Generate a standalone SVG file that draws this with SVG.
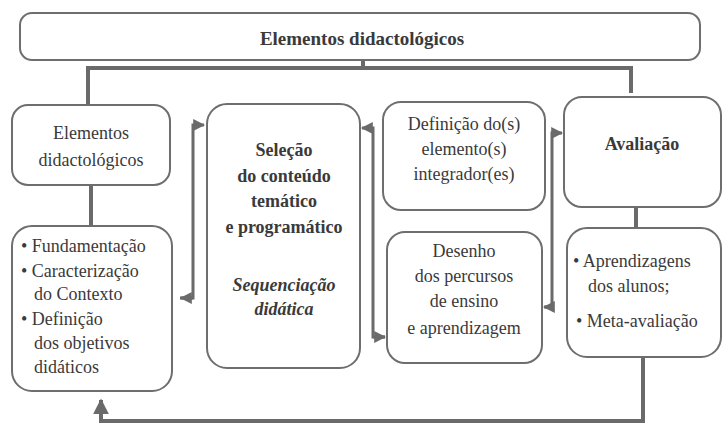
<svg xmlns="http://www.w3.org/2000/svg" width="723" height="429" viewBox="0 0 723 429">
<defs>
<style>
.box{fill:#fff;stroke:#6e6e6e;stroke-width:2}
text{font-family:"Liberation Serif","Times New Roman",Tinos,serif;font-size:18px;fill:#3a3a3a}
.c{text-anchor:middle}
.b{font-weight:bold}
.i{font-style:italic;font-weight:bold}
.con{fill:none;stroke:#6a6a6a}
.thick{stroke-width:4}
.thin{stroke-width:3}
</style>
<marker id="ah" viewBox="0 0 10 10" refX="9" refY="5" markerWidth="4" markerHeight="4" orient="auto" markerUnits="strokeWidth">
<path d="M0,0 L10,5 L0,10 z" fill="#6a6a6a"/>
</marker>
</defs>
<rect width="723" height="429" fill="#fff"/>

<g id="connectors">
<path class="con thick" d="M363,60 V68 M88,105 V68 H631 V93"/>
<path class="con thick" d="M91,185 V225"/>
<path class="con thick" d="M636,207 V228"/>
<path class="con thick" d="M643,357 V421 H101 V400" marker-end="url(#ah)"/>
<path class="con thin" d="M180,298 H193 V125 H204" marker-end="url(#ah)"/>
<path class="con thin" d="M193,298 H181" marker-end="url(#ah)"/>
<path class="con thin" d="M385,337 H373 V128 H362" marker-end="url(#ah)"/>
<path class="con thin" d="M373,337 H385" marker-end="url(#ah)"/>
<path class="con thin" d="M545,307 H552 V133 H562" marker-end="url(#ah)"/>
<path class="con thin" d="M552,307 H544" marker-end="url(#ah)"/>
</g>

<g id="title">
<rect class="box" x="20" y="13" width="680" height="47" rx="12"/>
<text class="c b" x="362" y="45" style="font-size:19px">Elementos didactológicos</text>
</g>

<g id="elementos">
<rect class="box" x="12" y="105" width="158" height="80" rx="16"/>
<text class="c" x="91" y="139">Elementos</text>
<text class="c" x="91" y="166">didactológicos</text>
</g>

<g id="fundamentacao">
<rect class="box" x="12" y="226" width="160" height="165" rx="20"/>
<text x="21" y="252">• Fundamentação</text>
<text x="21" y="277">• Caracterização</text>
<text x="34" y="300">do Contexto</text>
<text x="21" y="325">• Definição</text>
<text x="34" y="349">dos objetivos</text>
<text x="34" y="373">didáticos</text>
</g>

<g id="selecao">
<rect class="box" x="207" y="104" width="153" height="264" rx="20"/>
<text class="c b" x="284" y="156">Seleção</text>
<text class="c b" x="284" y="182">do conteúdo</text>
<text class="c b" x="284" y="207">temático</text>
<text class="c b" x="284" y="233">e programático</text>
<text class="c i" x="284" y="291">Sequenciação</text>
<text class="c i" x="284" y="315">didática</text>
</g>

<g id="definicao">
<rect class="box" x="383" y="102" width="162" height="108" rx="18"/>
<text class="c" x="464" y="130">Definição do(s)</text>
<text class="c" x="464" y="155">elemento(s)</text>
<text class="c" x="464" y="180">integrador(es)</text>
</g>

<g id="desenho">
<rect class="box" x="387" y="232" width="155" height="131" rx="18"/>
<text class="c" x="464" y="257">Desenho</text>
<text class="c" x="464" y="282">dos percursos</text>
<text class="c" x="464" y="307">de ensino</text>
<text class="c" x="464" y="334">e aprendizagem</text>
</g>

<g id="avaliacao">
<rect class="box" x="564" y="97" width="157" height="110" rx="18"/>
<text class="c b" x="642" y="150">Avaliação</text>
</g>

<g id="aprendizagens">
<rect class="box" x="567" y="228" width="154" height="129" rx="20"/>
<text x="573" y="267">• Aprendizagens</text>
<text x="588" y="292">dos alunos;</text>
<text x="576" y="327">•  Meta-avaliação</text>
</g>
</svg>
